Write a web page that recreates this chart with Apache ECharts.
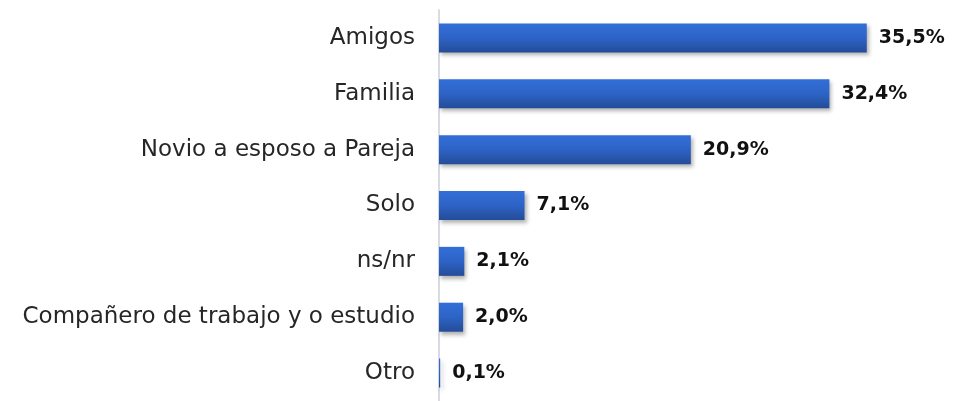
<!DOCTYPE html>
<html>
<head>
<meta charset="utf-8">
<script src="https://cdn.jsdelivr.net/npm/echarts@6/dist/echarts.min.js"></script>
<style>
  html, body { margin: 0; padding: 0; background: #fff; }
  #chart { width: 959px; height: 401px; }
</style>
</head>
<body>
<div id="chart"></div>
<script>
const categories = ['Amigos', 'Familia', 'Novio a esposo a Pareja', 'Solo', 'ns/nr', 'Compañero de trabajo y o estudio', 'Otro'];
const values = [35.5, 32.4, 20.9, 7.1, 2.1, 2.0, 0.1];

const myChart = echarts.init(document.getElementById('chart'));

const option = {
    animation: false,
    grid: {
        left: 439,
        right: 38,
        top: 10,
        height: 397,
    },
    xAxis: {
        type: 'value',
        min: 0,
        max: 40,
        show: false,
    },
    yAxis: {
        type: 'category',
        data: categories,
        inverse: true,
        axisLine: { show: true, lineStyle: { color: '#d9dbe3', width: 2 } },
        axisTick: { show: false },
        axisLabel: {
            margin: 24,
            fontFamily: '"DejaVu Sans", sans-serif',
            fontSize: 23,
            color: '#262626',
        },
    },
    series: [
        {
            name: 'Compañía',
            type: 'bar',
            data: values,
            barWidth: 29,
            itemStyle: {
                color: new echarts.graphic.LinearGradient(0, 0, 0, 1, [
                    { offset: 0, color: '#336fd8' },
                    { offset: 0.5, color: '#2d63c6' },
                    { offset: 1, color: '#244c98' },
                ]),
                shadowColor: 'rgba(0, 0, 0, 0.3)',
                shadowBlur: 4,
                shadowOffsetX: 2,
                shadowOffsetY: 3,
            },
            label: {
                show: true,
                position: 'right',
                distance: 12,
                fontFamily: '"DejaVu Sans", sans-serif',
                fontSize: 19,
                fontWeight: 'bold',
                color: '#111',
                formatter: (p) => p.value.toFixed(1).replace('.', ',') + '%',
            },
        },
    ],
};

myChart.setOption(option);
</script>
</body>
</html>
